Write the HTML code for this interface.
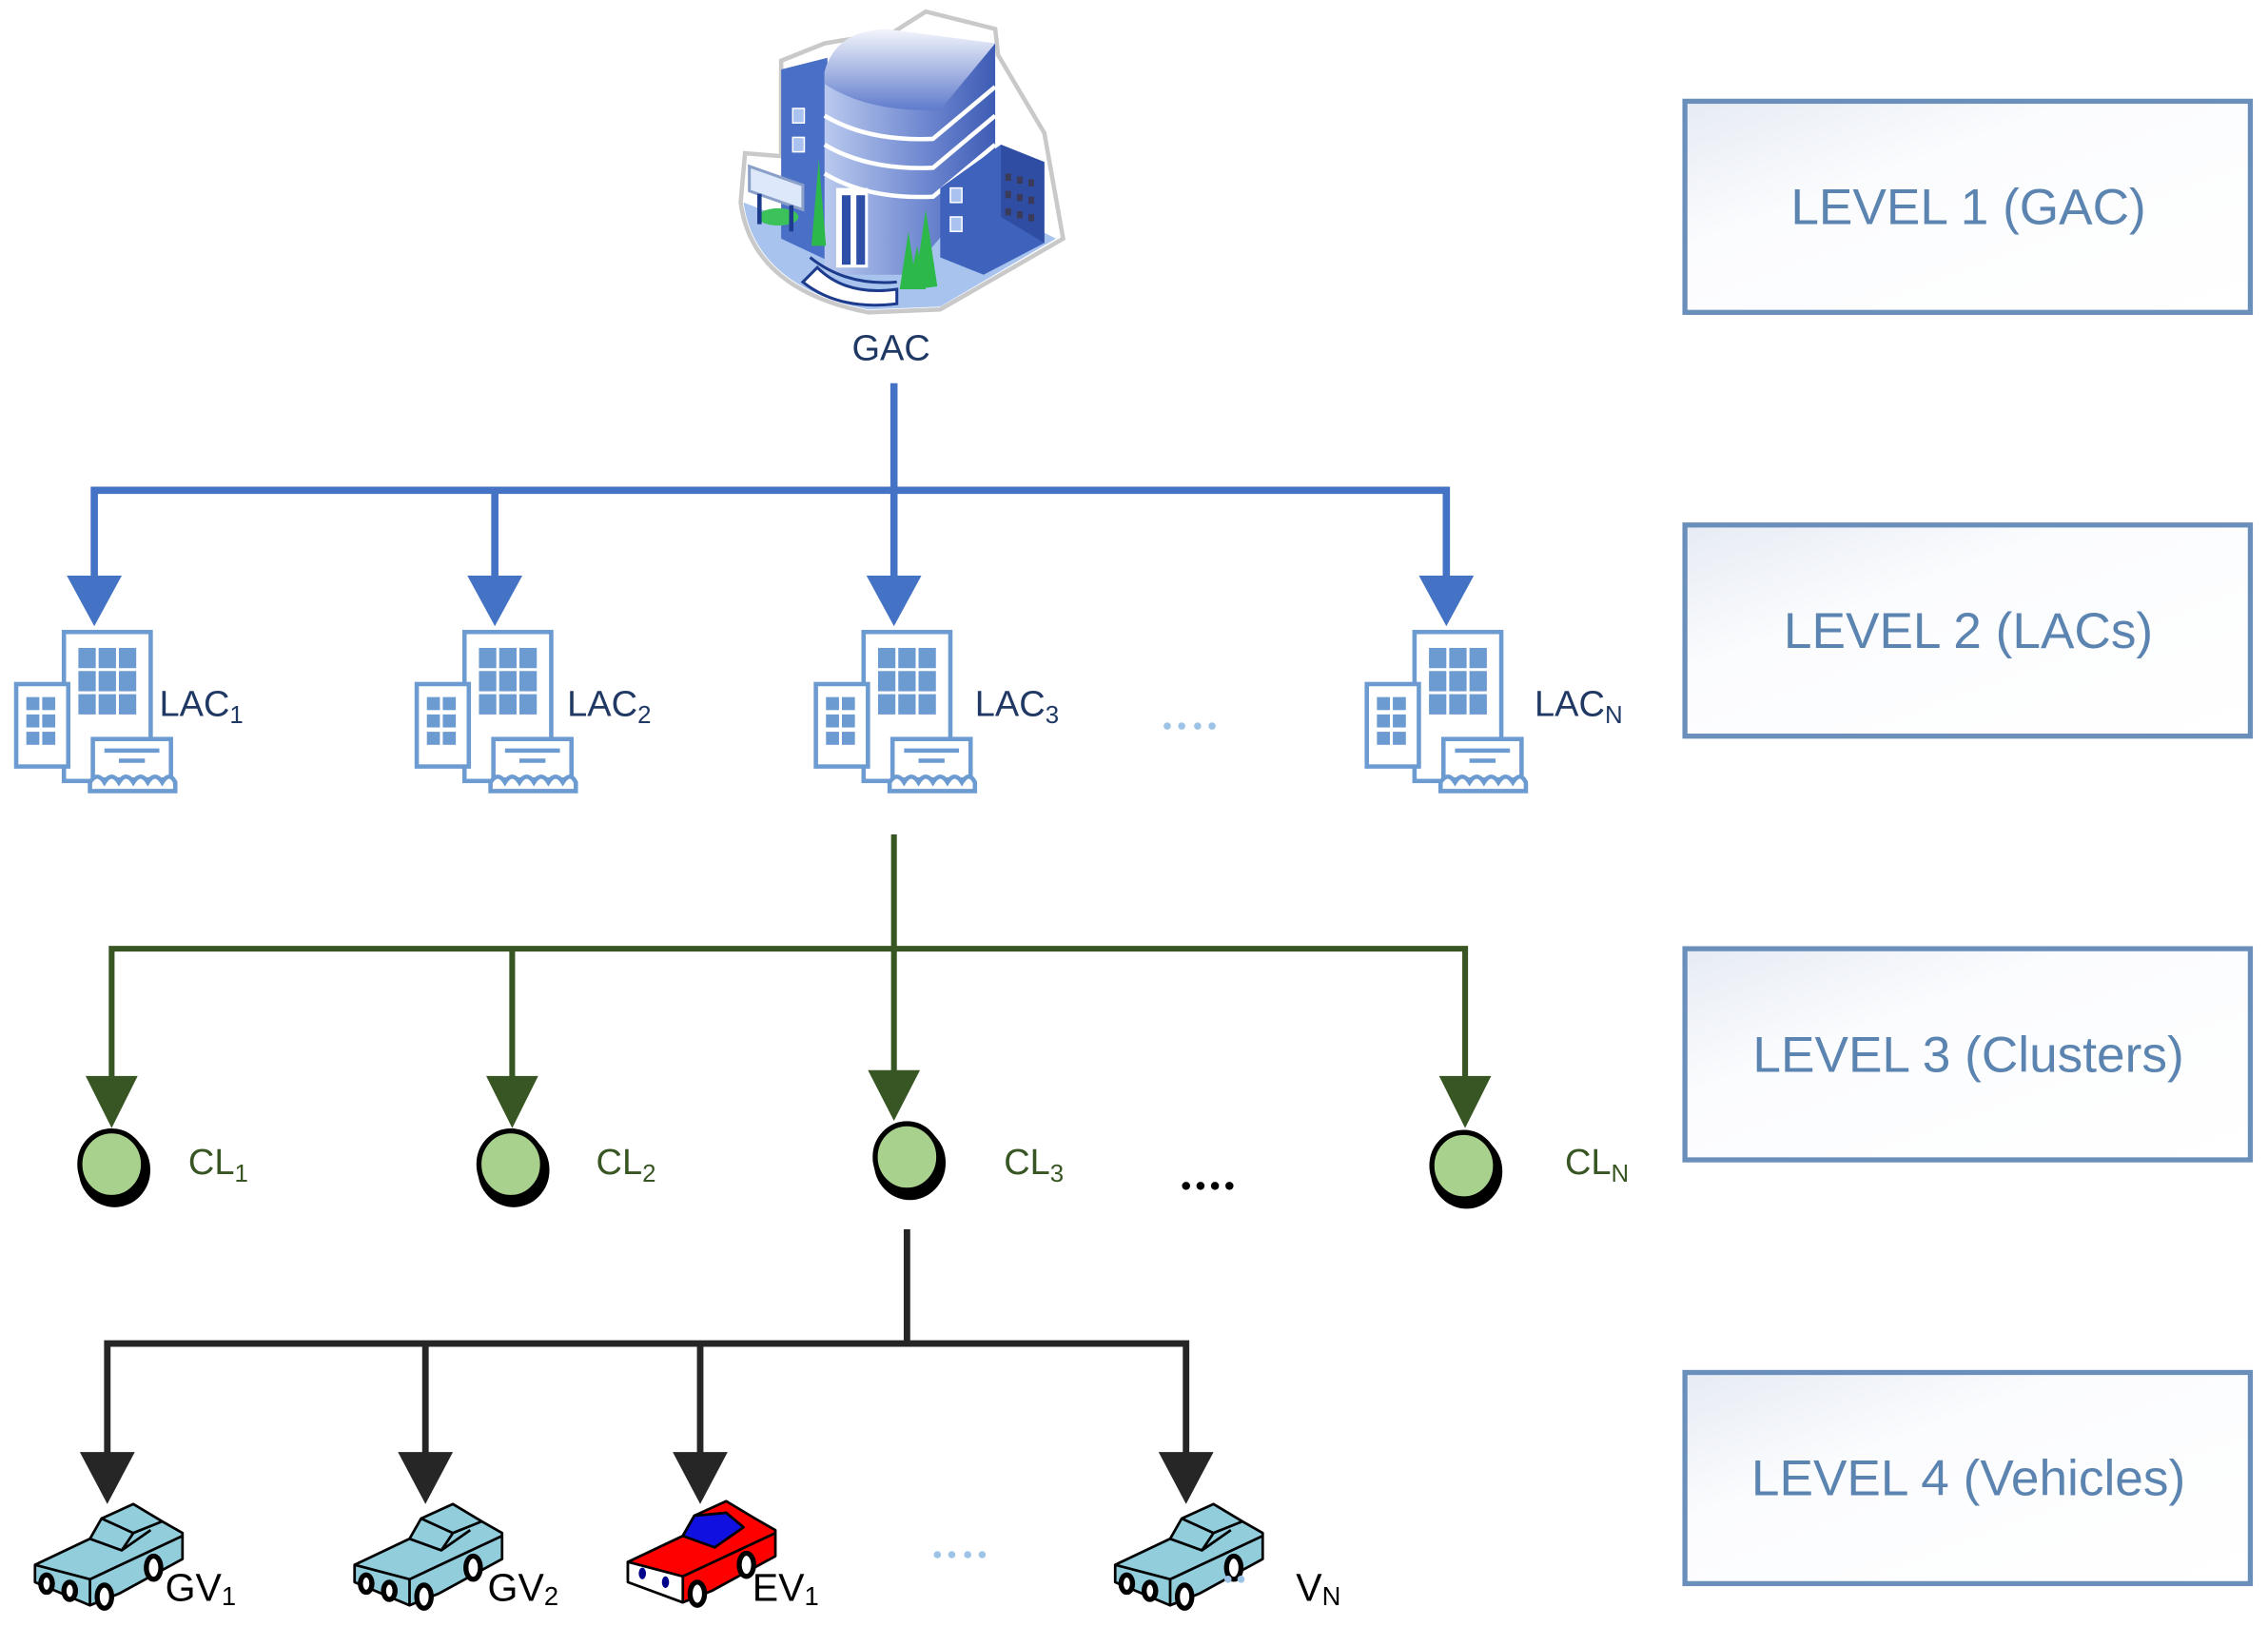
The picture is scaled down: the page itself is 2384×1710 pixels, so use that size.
<!DOCTYPE html>
<html><head><meta charset="utf-8"><style>
html,body{margin:0;padding:0;background:#fff;}
svg{display:block;}
text{font-family:"Liberation Sans",sans-serif;}
</style></head><body>
<svg width="2384" height="1710" viewBox="0 0 1568 1125" xmlns="http://www.w3.org/2000/svg">
<defs>
<linearGradient id="box" x1="0" y1="0" x2="1" y2="1"><stop offset="0" stop-color="#e6ebf3"/><stop offset="0.35" stop-color="#fbfcfe"/><stop offset="1" stop-color="#ffffff"/></linearGradient>
<linearGradient id="cyl" x1="0" y1="0" x2="1" y2="0"><stop offset="0" stop-color="#b9c9ee"/><stop offset="0.6" stop-color="#6d86cf"/><stop offset="1" stop-color="#3e5cb5"/></linearGradient>
<linearGradient id="top" x1="0" y1="0" x2="0" y2="1"><stop offset="0" stop-color="#f4f6fc"/><stop offset="1" stop-color="#5f7bcc"/></linearGradient>
<g id="lac" fill="none" stroke="#6c9bd2" stroke-width="3">
  <rect x="34" y="2" width="60" height="103" fill="#fff"/>
  <g fill="#6c9bd2" stroke="none">
    <rect x="44" y="13" width="12" height="14"/><rect x="58" y="13" width="12" height="14"/><rect x="72" y="13" width="12" height="14"/>
    <rect x="44" y="29" width="12" height="14"/><rect x="58" y="29" width="12" height="14"/><rect x="72" y="29" width="12" height="14"/>
    <rect x="44" y="45" width="12" height="14"/><rect x="58" y="45" width="12" height="14"/><rect x="72" y="45" width="12" height="14"/>
  </g>
  <rect x="1" y="38" width="36" height="57" fill="#fff"/>
  <g fill="#6c9bd2" stroke="none">
    <rect x="8" y="47" width="9" height="9"/><rect x="19" y="47" width="9" height="9"/>
    <rect x="8" y="59" width="9" height="9"/><rect x="19" y="59" width="9" height="9"/>
    <rect x="8" y="71" width="9" height="9"/><rect x="19" y="71" width="9" height="9"/>
  </g>
  <rect x="54" y="76" width="54" height="28" fill="#fff"/>
  <line x1="62" y1="84" x2="100" y2="84"/><line x1="72" y1="91" x2="90" y2="91"/>
  <path d="M52 112 L52 106 Q57 98 62 106 Q67 98 72 106 Q77 98 82 106 Q87 98 92 106 Q97 98 102 106 Q107 98 111 106 L111 112 Z" fill="#fff"/>
</g>
<g id="car" stroke="#000" stroke-width="1.8" stroke-linejoin="round">
  <path d="M2 42 L40 24 L48 10 L70 0 L90 12 L104 20 L104 38 L60 62 L40 70 L2 54 Z" fill="#92cddc"/>
  <path d="M2 42 L40 52 L40 70 M40 52 L104 22 M40 24 L62 32 L82 18 M48 10 L70 20 L62 32 M70 20 L90 12" fill="none"/>
  <ellipse cx="10" cy="55" rx="4" ry="6" fill="#fff" stroke-width="3.5"/>
  <ellipse cx="26" cy="60" rx="4" ry="6" fill="#fff" stroke-width="3.5"/>
  <ellipse cx="50" cy="64" rx="5" ry="8" fill="#fff" stroke-width="3.5"/>
  <ellipse cx="84" cy="44" rx="5" ry="8" fill="#fff" stroke-width="3.5"/>
</g>
<g id="ecar" stroke="#000" stroke-width="1.8" stroke-linejoin="round">
  <path d="M2 42 L40 24 L48 10 L70 0 L90 12 L104 20 L104 38 L60 62 L40 70 L2 54 Z" fill="#f00"/>
  <path d="M40 24 L62 32 L82 18 L70 8 L48 10 Z" fill="#1010e0"/>
  <path d="M2 42 L40 52 L40 70 L2 56 Z" fill="#fff"/>
  <path d="M40 52 L104 22" fill="none"/>
  <ellipse cx="12" cy="50" rx="2.5" ry="4" fill="#00008b" stroke="none"/>
  <ellipse cx="28" cy="56" rx="2.5" ry="4" fill="#00008b" stroke="none"/>
  <ellipse cx="50" cy="64" rx="5" ry="8" fill="#fff" stroke-width="3.5"/>
  <ellipse cx="84" cy="44" rx="5" ry="8" fill="#fff" stroke-width="3.5"/>
</g>
</defs>

<g stroke="#6a8fba" stroke-width="3.5" fill="url(#box)">
<rect x="1165" y="70" width="391" height="146"/>
<rect x="1165" y="363" width="391" height="146"/>
<rect x="1165" y="656" width="391" height="146"/>
<rect x="1165" y="949" width="391" height="146"/>
</g>
<g fill="#5b84b1" font-size="35" text-anchor="middle">
<text x="1361" y="155">LEVEL 1 (GAC)</text>
<text x="1361" y="448">LEVEL 2 (LACs)</text>
<text x="1361" y="741">LEVEL 3 (Clusters)</text>
<text x="1361" y="1034">LEVEL 4 (Vehicles)</text>
</g>

<!-- GAC building -->
<path d="M512 140 Q520 200 600 216 L650 214 L735 165 L722 92 L690 38 L688 20 L640 8 L618 22 L570 30 L540 42 L540 108 L515 106 Z" fill="#fff" stroke="#c9c9c9" stroke-width="3"/>
<path d="M514 140 Q522 198 600 214 L650 212 L730 165 L700 150 L600 175 L540 150 Z" fill="#a7c3ee"/>
<path d="M540 48 L572 40 L572 180 L540 165 Z" fill="#4a6fc6"/>
<rect x="548" y="75" width="8" height="10" fill="#aac2ef" stroke="#fff"/>
<rect x="548" y="95" width="8" height="10" fill="#aac2ef" stroke="#fff"/>
<path d="M570 50 Q575 25 612 22 L688 30 L688 120 L628 190 L570 190 Z" fill="url(#cyl)"/>
<path d="M570 52 Q575 22 612 20 L688 30 L650 76 Q600 78 570 58 Z" fill="url(#top)"/>
<g stroke="#fff" stroke-width="3" fill="none">
<path d="M570 80 Q600 98 645 96 L688 60"/>
<path d="M570 100 Q600 118 645 116 L688 80"/>
<path d="M570 120 Q600 138 645 136 L688 100"/>
</g>
<rect x="578" y="130" width="22" height="55" fill="#fff"/>
<rect x="582" y="135" width="6" height="48" fill="#2d4fa8"/><rect x="592" y="135" width="6" height="48" fill="#2d4fa8"/>
<path d="M650 130 L692 100 L722 112 L722 168 L680 190 L650 178 Z" fill="#3f63bd"/>
<path d="M692 100 L722 112 L722 168 L692 150 Z" fill="#2f4ea3"/>
<g fill="#3a3a5a"><rect x="695" y="120" width="4" height="5"/><rect x="703" y="122" width="4" height="5"/><rect x="711" y="124" width="4" height="5"/><rect x="695" y="132" width="4" height="5"/><rect x="703" y="134" width="4" height="5"/><rect x="711" y="136" width="4" height="5"/><rect x="695" y="144" width="4" height="5"/><rect x="703" y="146" width="4" height="5"/><rect x="711" y="148" width="4" height="5"/></g>
<rect x="657" y="130" width="8" height="10" fill="#aac2ef" stroke="#fff"/>
<rect x="657" y="150" width="8" height="10" fill="#aac2ef" stroke="#fff"/>
<path d="M555 195 Q580 215 620 210 L620 200 Q585 205 565 185 Z" fill="#fff" stroke="#1d3b8c" stroke-width="2"/>
<path d="M560 178 Q585 198 620 195" fill="none" stroke="#1d3b8c" stroke-width="2"/>
<path d="M566 110 L571 170 L561 170 Z" fill="#2db84a"/>
<path d="M622 200 L628 160 L634 200 Z M632 200 L640 145 L648 198 Z M628 200 L634 170 L640 200 Z" fill="#2db84a"/>
<ellipse cx="538" cy="150" rx="14" ry="6" fill="#3cc25a"/>
<path d="M518 115 L555 128 L555 145 L518 132 Z" fill="#dde8fa" stroke="#8aa0c8" stroke-width="2"/>
<line x1="525" y1="134" x2="525" y2="155" stroke="#1d3b8c" stroke-width="3"/><line x1="547" y1="142" x2="547" y2="160" stroke="#1d3b8c" stroke-width="3"/>
<text x="616" y="249" font-size="25" fill="#1f3864" text-anchor="middle">GAC</text>

<g stroke="#4472c4" stroke-width="5" fill="none">
<line x1="618" y1="265" x2="618" y2="400"/>
<polyline points="65,400 65,339 1000,339 1000,400"/>
<line x1="342" y1="339" x2="342" y2="400"/>
</g>
<g fill="#4472c4">
<polygon points="46,398 84,398 65,433"/><polygon points="323,398 361,398 342,433"/>
<polygon points="599,398 637,398 618,433"/><polygon points="981,398 1019,398 1000,433"/>
</g>
<use href="#lac" transform="translate(10,435)"/>
<use href="#lac" transform="translate(287,435)"/>
<use href="#lac" transform="translate(563,435)"/>
<use href="#lac" transform="translate(944,435)"/>
<g fill="#1f3864" font-size="25">
<text x="110" y="495">LAC<tspan font-size="17" dy="5">1</tspan></text>
<text x="392" y="495">LAC<tspan font-size="17" dy="5">2</tspan></text>
<text x="674" y="495">LAC<tspan font-size="17" dy="5">3</tspan></text>
<text x="1061" y="495">LAC<tspan font-size="17" dy="5">N</tspan></text>
</g>
<g fill="#9dc3e6"><circle cx="807" cy="502" r="2.5"/><circle cx="817" cy="502" r="2.5"/><circle cx="828" cy="502" r="2.5"/><circle cx="838" cy="502" r="2.5"/></g>

<g stroke="#375623" stroke-width="4" fill="none">
<line x1="618" y1="577" x2="618" y2="745"/>
<polyline points="77,745 77,656 1013,656 1013,745"/>
<line x1="354" y1="656" x2="354" y2="745"/>
</g>
<g fill="#375623">
<polygon points="59,744 95,744 77,780"/><polygon points="336,744 372,744 354,780"/>
<polygon points="600,740 636,740 618,775"/><polygon points="995,744 1031,744 1013,780"/>
</g>
<g stroke="#000" stroke-width="3.5" fill="#a9d18e">
<ellipse cx="79" cy="809" rx="23" ry="24" fill="#000"/><ellipse cx="77" cy="805" rx="22" ry="23"/>
<ellipse cx="355" cy="809" rx="23" ry="24" fill="#000"/><ellipse cx="353" cy="805" rx="22" ry="23"/>
<ellipse cx="629" cy="804" rx="23" ry="24" fill="#000"/><ellipse cx="627" cy="800" rx="22" ry="23"/>
<ellipse cx="1014" cy="810" rx="23" ry="24" fill="#000"/><ellipse cx="1012" cy="806" rx="22" ry="23"/>
</g>
<g fill="#375623" font-size="25">
<text x="130" y="812">CL<tspan font-size="17" dy="5">1</tspan></text>
<text x="412" y="812">CL<tspan font-size="17" dy="5">2</tspan></text>
<text x="694" y="812">CL<tspan font-size="17" dy="5">3</tspan></text>
<text x="1082" y="812">CL<tspan font-size="17" dy="5">N</tspan></text>
</g>
<g fill="#000"><circle cx="820" cy="820" r="2.8"/><circle cx="830" cy="820" r="2.8"/><circle cx="840" cy="820" r="2.8"/><circle cx="850" cy="820" r="2.8"/></g>

<g stroke="#262626" stroke-width="4.5" fill="none">
<line x1="627" y1="850" x2="627" y2="929"/>
<polyline points="74,1005 74,929 820,929 820,1005"/>
<line x1="294" y1="929" x2="294" y2="1005"/>
<line x1="484" y1="929" x2="484" y2="1005"/>
</g>
<g fill="#262626">
<polygon points="55,1004 93,1004 74,1040"/><polygon points="275,1004 313,1004 294,1040"/>
<polygon points="465,1004 503,1004 484,1040"/><polygon points="801,1004 839,1004 820,1040"/>
</g>
<use href="#car" transform="translate(22,1040)"/>
<use href="#car" transform="translate(243,1040)"/>
<use href="#ecar" transform="translate(432,1038)"/>
<use href="#car" transform="translate(769,1040)"/>
<g fill="#000" font-size="27">
<text x="114" y="1107">GV<tspan font-size="18" dy="3">1</tspan></text>
<text x="337" y="1107">GV<tspan font-size="18" dy="3">2</tspan></text>
<text x="520" y="1107">EV<tspan font-size="18" dy="3">1</tspan></text>
<text x="896" y="1107">V<tspan font-size="18" dy="3">N</tspan></text>
</g>
<g fill="#9dc3e6"><circle cx="648" cy="1075" r="2.5"/><circle cx="658" cy="1075" r="2.5"/><circle cx="669" cy="1075" r="2.5"/><circle cx="679" cy="1075" r="2.5"/>
<circle cx="849" cy="1092" r="2.5"/><circle cx="858" cy="1092" r="2.5"/></g>
</svg>
</body></html>
